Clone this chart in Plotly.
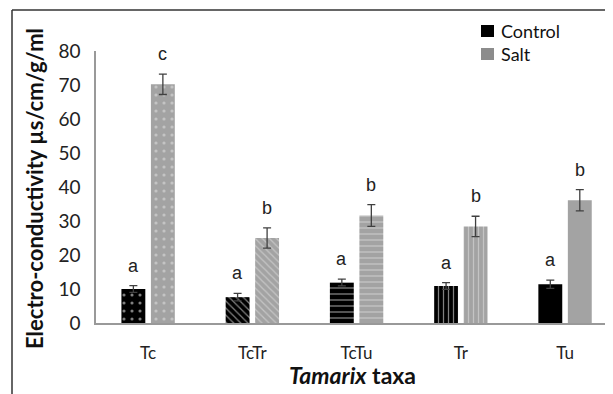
import plotly.graph_objects as go

categories = ["Tc", "TcTr", "TcTu", "Tr", "Tu"]
control = [10.0, 7.6, 11.9, 10.9, 11.4]
control_err = [1.0, 1.1, 1.0, 1.0, 1.2]
salt = [70.2, 25.0, 31.6, 28.4, 36.1]
salt_err = [3.0, 3.0, 3.2, 3.0, 3.1]
control_letters = ["a", "a", "a", "a", "a"]
salt_letters = ["c", "b", "b", "b", "b"]
patterns = [".", "\\", "-", "|", ""]
pattern_sizes = [8, 5, 6, 5, 5]
pattern_solidity = [0.12, 0.25, 0.22, 0.25, 0.25]
legend_names = ["Control", "Salt"]
legend_colors = ["#000000", "#8c8c8c"]

# page body has an 8px margin; work in screen pixels and offset
OFF = 8
W, H = 613 - OFF, 394 - OFF
L, R, T, B = 96, 613, 51, 323  # plot area in screen pixels

def px(x):
    return (x - L) / (R - L)
def py(y):
    return (B - y) / (B - T)

fig = go.Figure()
fig.add_trace(go.Bar(
    x=categories, y=control, name="Control", showlegend=False,
    marker=dict(color="#000000", line=dict(width=0),
                pattern=dict(shape=patterns, fillmode="overlay", fgcolor="#ffffff",
                             size=pattern_sizes, solidity=pattern_solidity)),
    error_y=dict(type="data", array=control_err, color="#404040", thickness=1.3, width=4),
))
fig.add_trace(go.Bar(
    x=categories, y=salt, name="Salt", showlegend=False,
    marker=dict(color="#a3a3a3", line=dict(width=0),
                pattern=dict(shape=patterns, fillmode="overlay", fgcolor="#e6e6e6",
                             size=pattern_sizes, solidity=pattern_solidity)),
    error_y=dict(type="data", array=salt_err, color="#404040", thickness=1.3, width=4),
))

off = 0.1416
for i, c in enumerate(categories):
    fig.add_annotation(x=i - off, y=control[i] + control_err[i], text=control_letters[i],
                       showarrow=False, yanchor="middle", yshift=20,
                       font=dict(family="Liberation Sans", size=18, color="#222"))
    fig.add_annotation(x=i + off, y=salt[i] + salt_err[i], text=salt_letters[i],
                       showarrow=False, yanchor="middle", yshift=20,
                       font=dict(family="Liberation Sans", size=18, color="#222"))

# manual legend
for k, (nm, col) in enumerate(zip(legend_names, legend_colors)):
    yc = 31 + 23 * k
    fig.add_shape(type="rect", xref="paper", yref="paper",
                  x0=px(481), x1=px(494), y0=py(yc + 6), y1=py(yc - 6),
                  fillcolor=col, line=dict(width=0))
    fig.add_annotation(xref="paper", yref="paper", x=px(499), y=py(yc), text=nm,
                       showarrow=False, xanchor="left", yanchor="middle",
                       font=dict(family="Lato", size=18, color="#111"))

fig.add_annotation(xref="paper", yref="paper", x=px(34), y=py(189),
                   text="<b>Electro-conductivity µs/cm/g/ml</b>", textangle=-90,
                   showarrow=False, xanchor="center", yanchor="middle",
                   font=dict(family="Lato", size=22, color="#111"))
fig.add_annotation(xref="paper", yref="paper", x=px(352), y=py(375),
                   text="<b><i>Tamarix</i> taxa</b>",
                   showarrow=False, xanchor="center", yanchor="middle",
                   font=dict(family="Lato", size=23, color="#111"))

# frame (top and left)
fig.add_shape(type="line", xref="paper", yref="paper",
              x0=px(12), x1=px(640), y0=py(10), y1=py(10),
              line=dict(color="#333", width=1.5))
fig.add_shape(type="line", xref="paper", yref="paper",
              x0=px(12), x1=px(12), y0=py(10), y1=py(420),
              line=dict(color="#333", width=1.5))

fig.update_layout(
    width=W, height=H,
    margin=dict(l=L - OFF, r=613 - R, t=T - OFF, b=394 - B, autoexpand=False),
    paper_bgcolor="white", plot_bgcolor="white",
    barmode="group", bargap=0.434, bargroupgap=0.19,
    font=dict(family="Lato", color="#222"),
    showlegend=False,
)
fig.update_xaxes(type="category", range=[-0.5, 4.46], showgrid=False,
                 showline=True, linecolor="#999", linewidth=1.5,
                 ticks="", tickfont=dict(size=17, color="#222"), ticklabelstandoff=14)
fig.update_yaxes(range=[0, 80], dtick=10, showgrid=False, zeroline=False,
                 showline=True, linecolor="#999", linewidth=1.5,
                 ticks="", tickfont=dict(size=19, color="#222"), ticklabelstandoff=10)

fig.write_html("out.html")
